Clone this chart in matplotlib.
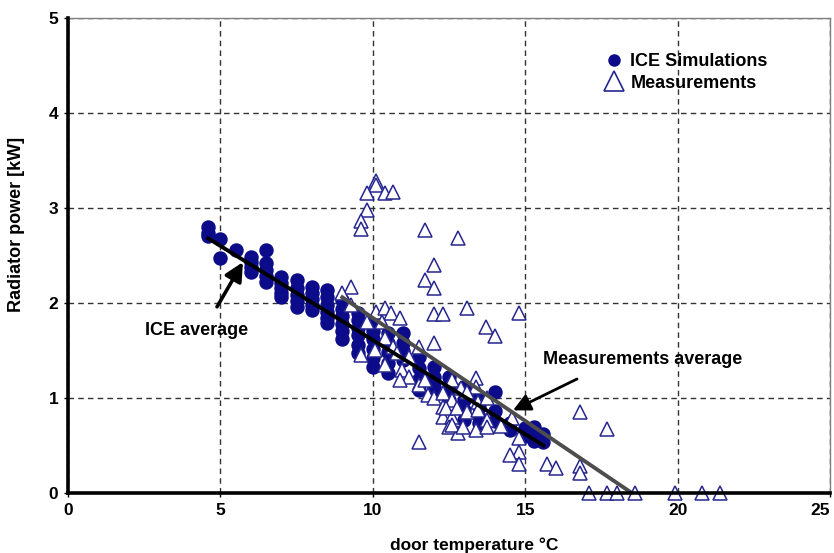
import matplotlib
matplotlib.use("Agg")
import matplotlib.pyplot as plt
from matplotlib.lines import Line2D

# ICE simulation results (door temperature, radiator power)
ice_x = [4.6, 4.6, 4.6, 5.0, 5.0, 5.5,
         6.0, 6.0, 6.0, 6.0,
         6.5, 6.5, 6.5, 6.5, 6.5,
         7.0, 7.0, 7.0, 7.0, 7.0,
         7.5, 7.5, 7.5, 7.5, 7.5,
         8.0, 8.0, 8.0, 8.0, 8.0,
         8.5, 8.5, 8.5, 8.5, 8.5, 8.5,
         9.0, 9.0, 9.0, 9.0, 9.0, 9.0,
         9.5, 9.5, 9.5, 9.5, 9.5, 9.5,
         10.0, 10.0, 10.0, 10.0, 10.0, 10.0,
         10.5, 10.5, 10.5, 10.5, 10.5,
         11.0, 11.0, 11.0, 11.0,
         11.5, 11.5, 11.5, 11.5,
         12.0, 12.0, 12.0, 12.0,
         12.5, 12.5, 12.5,
         13.0, 13.0, 13.0, 13.0,
         13.5, 13.5, 13.5, 13.5,
         14.0, 14.0, 14.0,
         14.5, 14.5,
         15.0, 15.0,
         15.3, 15.3, 15.3,
         15.6, 15.6]
ice_y = [2.80, 2.74, 2.70, 2.67, 2.47, 2.56,
         2.48, 2.43, 2.38, 2.33,
         2.56, 2.42, 2.35, 2.28, 2.22,
         2.27, 2.21, 2.16, 2.10, 2.06,
         2.24, 2.16, 2.08, 2.02, 1.96,
         2.17, 2.10, 2.04, 1.98, 1.93,
         2.14, 2.06, 1.98, 1.90, 1.84, 1.79,
         2.03, 1.94, 1.86, 1.78, 1.70, 1.62,
         1.89, 1.82, 1.74, 1.66, 1.56, 1.47,
         1.79, 1.71, 1.62, 1.52, 1.42, 1.33,
         1.68, 1.58, 1.48, 1.37, 1.26,
         1.68, 1.58, 1.49, 1.40,
         1.43, 1.32, 1.20, 1.08,
         1.33, 1.22, 1.12, 1.05,
         1.22, 1.10, 0.98,
         1.12, 0.98, 0.87, 0.77,
         1.01, 0.90, 0.80, 0.74,
         1.06, 0.86, 0.76,
         0.74, 0.66,
         0.68, 0.60,
         0.69, 0.61, 0.55,
         0.62, 0.54]

# measured values
meas_x = [10.1, 10.1, 9.8, 10.4, 10.65, 9.8, 9.6, 9.6, 11.7, 12.8,
          12.0, 11.7, 12.0, 13.1, 12.0, 12.3, 14.8, 13.7, 14.0, 12.0,
          16.8, 17.7, 11.5,
          9.3, 9.0, 9.3, 10.1, 10.4, 10.6, 10.9, 9.8, 10.3, 9.6,
          10.07, 10.4, 10.67, 10.8, 10.4, 10.96, 11.2, 11.5, 11.2, 10.9,
          11.5, 11.7, 11.8, 12.0, 12.3, 12.6, 12.3, 12.6, 12.3, 12.6,
          12.5, 12.8,
          12.9, 13.4, 13.4, 12.6, 13.1, 13.45, 13.75,
          12.4, 12.75, 13.1, 13.45, 13.75,
          12.6, 12.96, 13.4, 13.75,
          14.2, 14.57, 14.8, 14.8, 14.5, 14.8, 15.7, 16.0, 16.8, 16.8,
          17.1, 17.7, 18.0, 18.6, 19.9, 20.8, 21.4]
meas_y = [3.28, 3.24, 3.16, 3.16, 3.17, 2.98, 2.86, 2.78, 2.77, 2.68,
          2.40, 2.24, 2.16, 1.95, 1.88, 1.88, 1.89, 1.75, 1.65, 1.58,
          0.85, 0.67, 0.54,
          2.17, 2.10, 1.98, 1.91, 1.95, 1.89, 1.84, 1.80, 1.80, 1.45,
          1.50, 1.63, 1.54, 1.47, 1.35, 1.29, 1.43, 1.54, 1.22, 1.19,
          1.14, 1.19, 1.03, 1.00, 1.05, 1.19, 0.91, 0.93, 0.80, 0.80,
          0.69, 0.63,
          1.10, 1.21, 1.12, 0.98, 1.06, 0.96, 1.00,
          0.89, 0.89, 0.85, 0.87, 0.77,
          0.72, 0.69, 0.66, 0.69,
          0.70, 0.79, 0.58, 0.43, 0.40, 0.31, 0.31, 0.26, 0.28, 0.21,
          0.0, 0.0, 0.0, 0.0, 0.0, 0.0, 0.0]

# end points of the two average lines
ice_avg_x = [4.6, 15.6]
ice_avg_y = [2.68, 0.50]
meas_avg_x = [9.0, 18.5]
meas_avg_y = [2.06, 0.0]

NAVY = "#0c0c8a"
TRI = "#26268f"
FONT = "Liberation Sans"


def main():
    plt.rcParams["font.family"] = [FONT, "DejaVu Sans"]
    plt.rcParams["font.weight"] = "bold"

    fig = plt.figure(figsize=(8.34, 5.53), dpi=100)
    ax = fig.add_axes([0.0815, 0.1085, 0.9137, 0.859])

    ax.plot(ice_x, ice_y, "o", ms=9.4, color=NAVY, mec=NAVY, zorder=3)
    ax.plot(meas_x, meas_y, "^", ms=9.5, mfc="white", mec=TRI, mew=1.1,
            clip_on=False, zorder=4)

    ax.plot(ice_avg_x, ice_avg_y, color="black", lw=2.8, zorder=5)
    ax.plot(meas_avg_x, meas_avg_y, color="#4d4d4d", lw=2.8, zorder=5)

    ax.set_xlim(0, 25)
    ax.set_ylim(0, 5)
    ax.set_xticks([0, 5, 10, 15, 20, 25])
    ax.set_yticks([0, 1, 2, 3, 4, 5])
    ax.grid(True, ls=(0, (4, 3)), lw=1, color="#333333")
    ax.set_axisbelow(True)

    for side in ["left", "bottom"]:
        ax.spines[side].set_linewidth(2.6)
        ax.spines[side].set_color("black")
        ax.spines[side].set_zorder(6)
    for side in ["top", "right"]:
        ax.spines[side].set_linewidth(1)
        ax.spines[side].set_color("#808080")

    ax.tick_params(labelsize=12.5, length=3, width=1, pad=4)
    for lab in ax.get_xticklabels() + ax.get_yticklabels():
        lab.set_fontweight("bold")
    # last x label sits inside the figure edge
    ax.get_xticklabels()[-1].set_horizontalalignment("right")

    ax.set_xlabel("door temperature \u00b0C", fontsize=12.5, fontweight="bold")
    ax.set_ylabel("Radiator power [kW]", fontsize=13, fontweight="bold")
    ax.xaxis.set_label_coords(0.533, -0.094)
    ax.yaxis.set_label_coords(-0.056, 0.566)

    ax.annotate("", xy=(5.74, 2.43), xytext=(4.89, 1.96),
                arrowprops=dict(arrowstyle="-|>", lw=2.6, color="black",
                                mutation_scale=28, shrinkA=0, shrinkB=0),
                zorder=7)
    ax.text(4.23, 1.71, "ICE average", fontsize=13, fontweight="bold",
            ha="center", va="center")

    ax.annotate("", xy=(14.6, 0.87), xytext=(16.7, 1.2),
                arrowprops=dict(arrowstyle="-|>", lw=2, color="black",
                                mutation_scale=26, shrinkA=0, shrinkB=0),
                zorder=7)
    ax.text(18.86, 1.41, "Measurements average", fontsize=13,
            fontweight="bold", ha="center", va="center")

    handles = [
        Line2D([], [], ls="none", marker="o", ms=8, color=NAVY),
        Line2D([], [], ls="none", marker="^", ms=15, mfc="white",
               mec=TRI, mew=1.2),
    ]
    ax.legend(handles, ["ICE Simulations", "Measurements"], loc="upper left",
              bbox_to_anchor=(0.693, 0.945), frameon=False, borderpad=0,
              handlelength=1.0, handletextpad=0.4, labelspacing=0.25,
              prop={"family": FONT, "weight": "bold", "size": 13})

    fig.savefig("out.png", dpi=100)


if __name__ == "__main__":
    main()
